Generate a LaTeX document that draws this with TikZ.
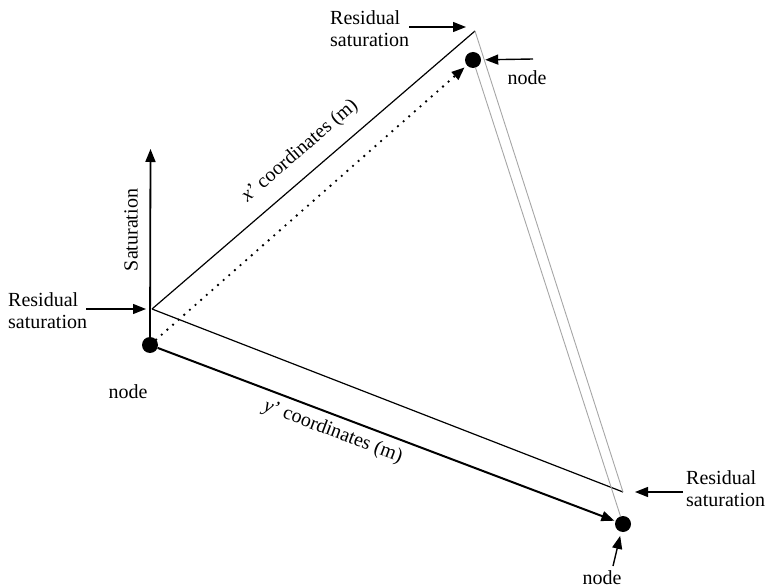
\documentclass[tikz,border=0pt]{standalone}
\usepackage{fontspec}
\setmainfont{Liberation Serif}
\usetikzlibrary{arrows.meta}
\begin{document}
\begin{tikzpicture}[x=1pt,y=-1pt,
  dot/.style={circle,fill=black,inner sep=0pt,minimum size=16pt},
  lbl/.style={font=\fontsize{20}{22}\selectfont, inner sep=0pt},
  arr/.style={-{Triangle[length=13pt,width=10pt]}, line width=1.4pt},
  edgeline/.style={line width=1.2pt},
  grayline/.style={line width=0.9pt, draw=black!35},
]
\useasboundingbox (0,0) rectangle (766,588);
% nodes (dots)
\node[dot] (N1) at (150,345) {};
\node[dot] (N2) at (473,60) {};
\node[dot] (N3) at (623,524) {};
% residual saturation points
\coordinate (R1) at (152,309);
\coordinate (R2) at (475,31);
\coordinate (R3) at (623,492);
\coordinate (S) at (150.5,149);
\coordinate (A2) at (533,59);
\coordinate (A3) at (613,566);
% surface
\draw[edgeline] (R1) -- (R2);
\draw[edgeline] (R1) -- (R3);
\draw[grayline] (R2) -- (R3);
\draw[grayline] (N2) -- (N3);
% axes
\draw[arr, line width=1.8pt] (N1.center) -- (S);
\draw[arr, line width=2pt, shorten >=1pt] (N1) -- (N3);
\draw[arr, line width=2.6pt, line cap=round, dash pattern=on 0pt off 7.5pt, shorten >=3pt] (N1) -- (N2);
% labels
\node[lbl, rotate=90] (sat) at (131,230) {Saturation};
\node[lbl, rotate=40.8] (xl) at (300,151) {\textit{x}’ coordinates (m)};
\node[lbl, rotate=-20.7] (yl) at (333,432) {\textit{y}’ coordinates (m)};
\node[lbl] (NL1) at (128,392) {node};
\node[lbl] (NL2) at (527,78) {node};
\node[lbl] (NL3) at (602,578) {node};
\node[lbl, align=left, anchor=west] (RL1) at (8,311) {Residual\\saturation};
\node[lbl, align=left, anchor=west] (RL2) at (330,29) {Residual\\saturation};
\node[lbl, align=left, anchor=west] (RL3) at (686,489) {Residual\\saturation};
% callout arrows
\draw[arr, shorten <=-1pt, shorten >=6pt] (RL1.east |- R1) -- (R1);
\draw[arr, shorten >=9pt] (RL2.east |- 0,27) -- (R2 |- 0,27);
\draw[arr, shorten >=4pt] (A2) -- (N2);
\draw[arr, shorten <=3pt, shorten >=12pt] (RL3.west |- R3) -- (R3);
\draw[arr, shorten >=4pt] (A3) -- (N3);
\end{tikzpicture}
\end{document}
